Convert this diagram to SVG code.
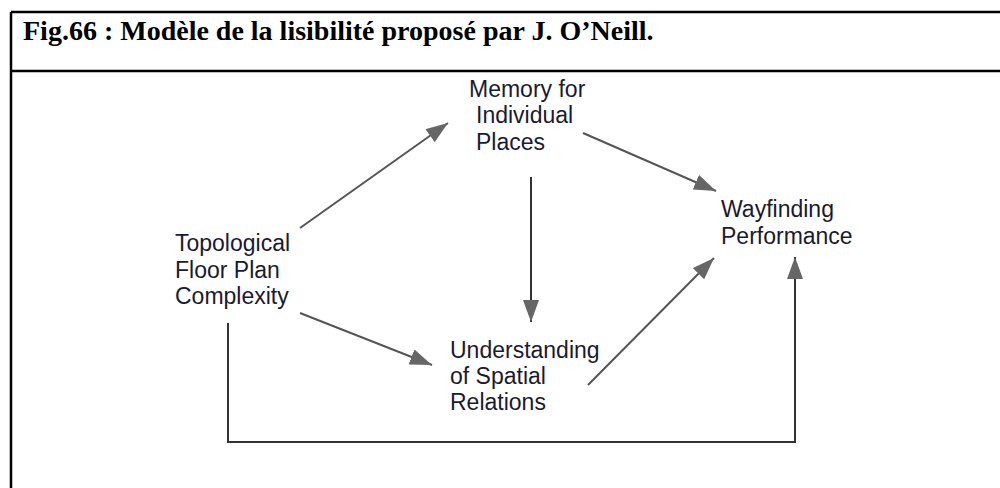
<svg xmlns="http://www.w3.org/2000/svg" width="1000" height="488" viewBox="0 0 1000 488">
  <defs>
    <marker id="ah" viewBox="0 0 22 16" refX="22" refY="8" markerWidth="22" markerHeight="16" markerUnits="userSpaceOnUse" orient="auto">
      <path d="M0,0 L22,8 L0,16 Z" fill="#666666"/>
    </marker>
    <style>
      .title { font-family: "Liberation Serif", "Times New Roman", serif; font-weight: bold; font-size: 28px; fill: #000; }
      .lbl { font-family: "Liberation Sans", Arial, sans-serif; font-size: 23px; fill: #1a1a30; }
      .frame { stroke: #000; stroke-width: 2.5; fill: none; }
      .conn { stroke: #555; stroke-width: 2; fill: none; marker-end: url(#ah); }
      .dark { stroke: #333; }
    </style>
  </defs>

  <g id="frame">
    <line class="frame" x1="11" y1="12" x2="1000" y2="12"/>
    <line class="frame" x1="11" y1="71" x2="1000" y2="71"/>
    <line class="frame" x1="11" y1="12" x2="11" y2="488"/>
    <text class="title" x="23" y="40">Fig.66 : Modèle de la lisibilité proposé par J. O’Neill.</text>
  </g>

  <g id="connectors">
    <line class="conn" x1="300" y1="228" x2="448" y2="123"/>
    <line class="conn" x1="583" y1="133" x2="716" y2="191"/>
    <line class="conn dark" x1="531" y1="177" x2="531" y2="322"/>
    <line class="conn" x1="300" y1="313" x2="432" y2="365"/>
    <line class="conn" x1="588" y1="385" x2="714" y2="258"/>
    <polyline class="conn dark" points="228,323 228,442 795,442 795,257"/>
  </g>

  <g id="node-memory">
    <text class="lbl" x="469" y="97">Memory for</text>
    <text class="lbl" x="476" y="123">Individual</text>
    <text class="lbl" x="476" y="150">Places</text>
  </g>
  <g id="node-topological">
    <text class="lbl" x="175" y="251">Topological</text>
    <text class="lbl" x="175" y="278">Floor Plan</text>
    <text class="lbl" x="175" y="304">Complexity</text>
  </g>
  <g id="node-wayfinding">
    <text class="lbl" x="721" y="217">Wayfinding</text>
    <text class="lbl" x="721" y="244">Performance</text>
  </g>
  <g id="node-understanding">
    <text class="lbl" x="450" y="358">Understanding</text>
    <text class="lbl" x="450" y="384">of Spatial</text>
    <text class="lbl" x="450" y="410">Relations</text>
  </g>
</svg>
